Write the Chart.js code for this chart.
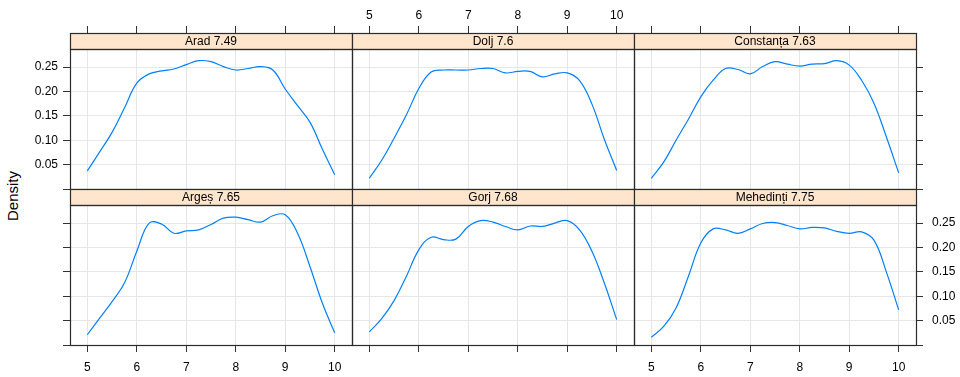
<!DOCTYPE html>
<html>
<head>
<meta charset="utf-8">
<script src="https://cdn.jsdelivr.net/npm/chart.js@4"></script>
<style>
  body { margin: 0; background: #fff; }
  #wrap { position: relative; width: 960px; height: 377px; overflow: hidden; }
  #wrap canvas { position: absolute; left: 0; top: 0; }
  #ylab {
    position: absolute; left: 12px; top: 196px;
    transform: translate(-50%, -50%) rotate(-90deg);
    font: 15px "Liberation Sans", Arial, sans-serif; color: #000; white-space: nowrap;
  }
</style>
</head>
<body>
<div id="wrap">
  <div id="ylab">Density</div>
</div>
<script>
const gradeX = [5, 5.25, 5.5, 5.75, 6, 6.25, 6.5, 6.75, 7, 7.25, 7.5, 7.75, 8, 8.25, 8.5, 8.75, 9, 9.25, 9.5, 9.75, 10];
const xTicks = [5, 6, 7, 8, 9, 10];
const yTicks = [0, 0.05, 0.10, 0.15, 0.20, 0.25];

const regions = ['Arad', 'Dolj', 'Constanța', 'Argeș', 'Gorj', 'Mehedinți'];
const means = [7.49, 7.6, 7.63, 7.65, 7.68, 7.75];

const arad      = [0.037, 0.076, 0.116, 0.166, 0.217, 0.236, 0.242, 0.246, 0.255, 0.263, 0.261, 0.251, 0.244, 0.247, 0.251, 0.244, 0.205, 0.171, 0.137, 0.082, 0.029];
const dolj      = [0.022, 0.059, 0.104, 0.152, 0.206, 0.240, 0.244, 0.244, 0.244, 0.247, 0.247, 0.238, 0.241, 0.241, 0.230, 0.236, 0.238, 0.222, 0.174, 0.102, 0.038];
const constanta = [0.022, 0.055, 0.100, 0.143, 0.189, 0.223, 0.247, 0.245, 0.236, 0.251, 0.261, 0.256, 0.252, 0.256, 0.257, 0.263, 0.254, 0.223, 0.176, 0.107, 0.033];
const arges     = [0.021, 0.055, 0.089, 0.127, 0.192, 0.250, 0.248, 0.229, 0.234, 0.236, 0.247, 0.260, 0.262, 0.257, 0.252, 0.265, 0.267, 0.229, 0.161, 0.086, 0.025];
const gorj      = [0.027, 0.054, 0.091, 0.141, 0.195, 0.221, 0.216, 0.217, 0.243, 0.255, 0.252, 0.243, 0.236, 0.244, 0.243, 0.250, 0.255, 0.236, 0.192, 0.127, 0.052];
const mehedinti = [0.016, 0.038, 0.076, 0.141, 0.209, 0.238, 0.236, 0.229, 0.238, 0.249, 0.251, 0.245, 0.238, 0.241, 0.240, 0.233, 0.229, 0.232, 0.215, 0.150, 0.072];

const densities = [arad, dolj, constanta, arges, gorj, mehedinti];

// panel layout (pixels)
const colLeft = [70, 352, 634];
const colRight = [352, 634, 916];
const stripTop = [33, 189];
const plotBottom = [189, 345];
const W = 960, H = 377;

const FONT = '"Liberation Sans", Arial, Helvetica, sans-serif';
Chart.defaults.font.family = FONT;
Chart.defaults.font.size = 12;
Chart.defaults.color = '#000';

// draws the peach strip with the panel title and the panel frames
const stripPlugin = {
  id: 'panelStrip',
  afterDraw(chart, args, opts) {
    const ctx = chart.ctx;
    const a = chart.chartArea;
    const s = chart.scales.strip;
    ctx.save();
    ctx.fillStyle = '#ffe5cc';
    ctx.fillRect(a.left, s.top, a.right - a.left, s.bottom - s.top);
    ctx.strokeStyle = '#2b2b2b';
    ctx.lineWidth = 1.2;
    ctx.strokeRect(a.left + 0.5, s.top + 0.5, a.right - a.left, s.bottom - s.top);
    ctx.strokeRect(a.left + 0.5, a.top + 0.5, a.right - a.left, a.bottom - a.top);
    ctx.fillStyle = '#000';
    ctx.font = '12px ' + FONT;
    ctx.textAlign = 'center';
    ctx.textBaseline = 'middle';
    ctx.fillText(opts.label, (a.left + a.right) / 2, (s.top + s.bottom) / 2 + 1);
    ctx.restore();
  }
};

const wrap = document.getElementById('wrap');

densities.forEach((dens, i) => {
  let col = i % 3;
  let row = Math.floor(i / 3);

  let canvas = document.createElement('canvas');
  canvas.width = W;
  canvas.height = H;
  wrap.appendChild(canvas);

  let yPos = col == 2 ? 'right' : 'left';
  let yWidth = col == 0 ? 70 : (col == 2 ? 44 : 0);
  let showXLabels = row == 0 ? col == 1 : col != 1;
  let showYLabels = (col == 0 && row == 0) || (col == 2 && row == 1);

  let padding = {
    left: col == 0 ? 0 : colLeft[col],
    right: col == 2 ? 0 : W - colRight[col],
    top: row == 0 ? 0 : stripTop[row],
    bottom: row == 1 ? 0 : H - plotBottom[row]
  };

  new Chart(canvas, {
    type: 'line',
    data: {
      datasets: [{
        data: gradeX.map((x, k) => ({ x: x, y: dens[k] })),
        borderColor: '#0080ff',
        borderWidth: 1.2,
        pointRadius: 0,
        tension: 0.4,
        fill: false
      }]
    },
    options: {
      responsive: false,
      animation: false,
      events: [],
      layout: { padding: padding },
      plugins: {
        legend: { display: false },
        tooltip: { enabled: false },
        panelStrip: { label: regions[i] + ' ' + means[i] }
      },
      scales: {
        x: {
          type: 'linear',
          position: row == 0 ? 'top' : 'bottom',
          weight: 1,
          min: 4.65,
          max: 10.35,
          afterBuildTicks: (scale) => { scale.ticks = xTicks.map(v => ({ value: v })); },
          afterFit: (scale) => { scale.height = row == 0 ? stripTop[0] : H - plotBottom[1]; },
          ticks: {
            display: showXLabels,
            padding: row == 0 ? 3 : 8,
            maxRotation: 0,
            callback: (v) => String(v)
          },
          grid: { color: '#e6e6e6', tickColor: '#333', tickLength: 7, drawTicks: true },
          border: { display: false }
        },
        strip: {
          type: 'linear',
          position: 'top',
          weight: 0,
          min: 0,
          max: 1,
          afterFit: (scale) => { scale.height = 16; },
          ticks: { display: false },
          grid: { display: false, drawTicks: false },
          border: { display: false }
        },
        y: {
          type: 'linear',
          position: yPos,
          min: 0,
          max: 0.287,
          afterBuildTicks: (scale) => { scale.ticks = yTicks.map(v => ({ value: v })); },
          afterFit: (scale) => { scale.width = yWidth; },
          ticks: {
            display: showYLabels,
            padding: col == 2 ? 9 : 5,
            callback: (v) => v === 0 ? '' : v.toFixed(2)
          },
          grid: { color: '#e6e6e6', tickColor: '#333', tickLength: 7, drawTicks: col != 1 },
          border: { display: false }
        }
      }
    },
    plugins: [stripPlugin]
  });
});
</script>
</body>
</html>
